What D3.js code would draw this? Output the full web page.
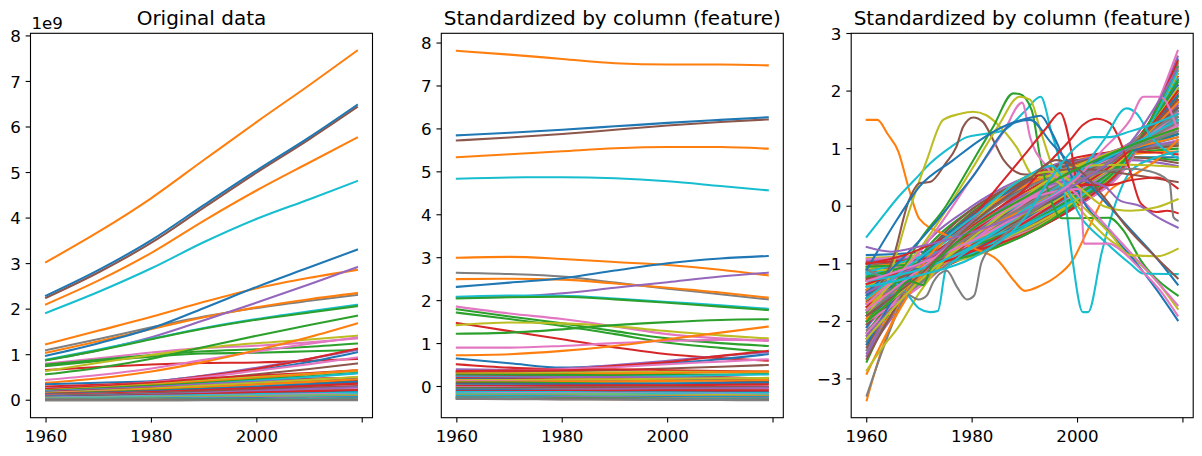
<!DOCTYPE html>
<html><head><meta charset="utf-8">
<script src="https://cdn.jsdelivr.net/npm/d3@7"></script>
<style>
body{margin:0;background:#fff}
svg{display:block}
text{font-family:"DejaVu Sans",sans-serif;fill:#000}
</style>
</head><body>
<svg id="chart" width="1202" height="456"></svg>
<script>
// ---------------- DATA ----------------
const palette = ["#1f77b4","#ff7f0e","#2ca02c","#d62728","#9467bd","#8c564b","#e377c2","#7f7f7f","#bcbd22","#17becf"];
const years = [1960,1970,1980,1990,2000,2010,2019];
const xTicks = [1960,1980,2000,2020];
const xTickLabels = ["1960","1980","2000",""];
const titles = ["Original data","Standardized by column (feature)","Standardized by column (feature)"];
const offsetLabel = "1e9";
const yTicks1 = [0,1,2,3,4,5,6,7,8];
const yTicks2 = [0,1,2,3,4,5,6,7,8];
const yTicks3 = [-3,-2,-1,0,1,2,3];
const yTickLabels3 = ["\u22123","\u22122","\u22121","0","1","2","3"];

// column (per-year) statistics across countries, in units of 1e9
const colMean = [0.1084,0.1360,0.1680,0.2055,0.2427,0.2790,0.3148];
const colStd  = [0.3739,0.4611,0.5599,0.6739,0.7828,0.8857,0.9838];

// values standardized by column (per year), one row per series, at `years`
const colZ = [
 [7.82,7.73,7.63,7.53,7.50,7.50,7.48],
 [5.73,5.80,5.88,5.98,6.08,6.16,6.22],
 [5.85,5.91,5.98,6.06,6.14,6.21,6.27],
 [5.34,5.41,5.48,5.55,5.58,5.58,5.54],
 [4.84,4.87,4.875,4.85,4.78,4.67,4.57],
 [3.00,3.02,2.97,2.90,2.83,2.72,2.59],
 [2.65,2.62,2.56,2.42,2.28,2.15,2.03],
 [2.50,2.51,2.49,2.40,2.30,2.19,2.07],
 [2.32,2.42,2.52,2.70,2.87,2.98,3.04],
 [2.07,2.09,2.17,2.30,2.43,2.56,2.65],
 [2.09,2.12,2.11,2.05,1.97,1.89,1.81],
 [2.05,2.08,2.09,2.03,1.95,1.86,1.78],
 [1.86,1.70,1.57,1.40,1.22,1.12,1.06],
 [1.80,1.63,1.47,1.29,1.12,1.01,0.945],
 [1.72,1.57,1.41,1.22,1.02,0.90,0.80],
 [1.48,1.29,1.10,0.91,0.75,0.66,0.60],
 [1.43,1.49,1.47,1.40,1.29,1.19,1.12],
 [1.23,1.255,1.33,1.43,1.50,1.55,1.565],
 [0.906,0.906,0.945,1.01,1.06,1.085,1.08],
 [0.728,0.752,0.83,0.945,1.10,1.255,1.395],
 [0.65,0.54,0.44,0.48,0.54,0.635,0.752],
 [0.40,0.39,0.42,0.50,0.60,0.71,0.80],
 [0.52,0.44,0.40,0.48,0.57,0.713,0.829],
 [0.36,0.37,0.40,0.45,0.52,0.58,0.635],
 [0.325,0.33,0.35,0.38,0.42,0.46,0.50],
 [0.36,0.37,0.38,0.40,0.38,0.36,0.35],
 [0.33,0.32,0.31,0.30,0.27,0.22,0.18],
 [0.30,0.31,0.32,0.33,0.34,0.34,0.34],
 [0.28,0.28,0.29,0.30,0.31,0.33,0.35],
 [0.27,0.27,0.27,0.26,0.27,0.28,0.29],
 [0.25,0.24,0.22,0.20,0.17,0.14,0.12],
 [0.23,0.22,0.21,0.22,0.24,0.26,0.28],
 [0.21,0.21,0.22,0.22,0.21,0.20,0.19],
 [0.19,0.18,0.17,0.16,0.15,0.14,0.13],
 [0.17,0.16,0.15,0.15,0.14,0.15,0.16],
 [0.15,0.15,0.16,0.17,0.18,0.19,0.20],
 [0.13,0.12,0.10,0.08,0.06,0.05,0.04],
 [0.11,0.11,0.12,0.12,0.13,0.14,0.15],
 [0.09,0.09,0.08,0.07,0.07,0.08,0.09],
 [0.07,0.06,0.05,0.03,0.01,0.00,-0.01],
 [0.05,0.05,0.05,0.06,0.07,0.08,0.09],
 [0.03,0.02,0.01,0.00,-0.01,-0.01,-0.02],
 [0.01,0.01,0.02,0.03,0.03,0.04,0.05],
 [-0.01,-0.02,-0.03,-0.04,-0.05,-0.05,-0.06],
 [-0.03,-0.03,-0.02,-0.02,-0.02,-0.01,-0.01],
 [-0.05,-0.06,-0.07,-0.08,-0.09,-0.09,-0.10],
 [-0.07,-0.07,-0.07,-0.06,-0.05,-0.04,-0.03],
 [-0.09,-0.09,-0.10,-0.11,-0.12,-0.12,-0.13],
 [-0.11,-0.11,-0.10,-0.10,-0.09,-0.09,-0.09],
 [-0.13,-0.13,-0.13,-0.14,-0.14,-0.15,-0.15],
 [-0.15,-0.15,-0.16,-0.16,-0.17,-0.17,-0.18],
 [-0.16,-0.17,-0.17,-0.17,-0.18,-0.19,-0.19],
 [-0.18,-0.18,-0.19,-0.19,-0.20,-0.20,-0.21],
 [-0.19,-0.19,-0.20,-0.21,-0.21,-0.22,-0.22],
 [-0.21,-0.21,-0.21,-0.22,-0.22,-0.23,-0.23],
 [-0.22,-0.22,-0.23,-0.23,-0.24,-0.24,-0.25],
 [-0.24,-0.24,-0.24,-0.25,-0.25,-0.26,-0.26],
 [-0.25,-0.25,-0.26,-0.26,-0.27,-0.27,-0.28],
 [-0.26,-0.26,-0.27,-0.27,-0.28,-0.28,-0.29],
 [-0.27,-0.27,-0.28,-0.28,-0.29,-0.29,-0.30],
 [-0.28,-0.28,-0.29,-0.29,-0.30,-0.30,-0.31],
 [-0.285,-0.29,-0.295,-0.30,-0.305,-0.31,-0.315],
 [-0.29,-0.295,-0.30,-0.305,-0.31,-0.315,-0.32]
];
const colZColors = [1,5,0,1,9, 1,7,1,0,4,9,2,6,2,2,3,8,2,6,1,0,4,3,6,5,
 3,3,8,1,2,5,9,4,3,0,8,6,1,2,3,0,7,3,6,5,2,4,0,3,9,6,9,8,9,1,9,0,6,2,7,9,5,7];

// values standardized per series (over its own years): bulk rows at `years`
const rowZ = [
 [-0.85,-0.80,-0.62,-0.35,0.05,0.80,2.55],
 [-1.40,-0.95,-0.60,-0.25,0.25,0.95,2.30],
 [-2.20,-1.10,-0.55,-0.05,0.40,1.05,2.10],
 [-1.10,-1.00,-0.80,-0.40,0.20,1.00,2.25],
 [-1.90,-1.30,-0.60,0.00,0.55,1.10,1.55],
 [-1.25,-1.00,-0.65,-0.15,0.35,0.95,2.05],
 [-2.50,-1.00,-0.20,0.35,0.75,0.95,1.15],
 [-1.60,-1.20,-0.70,-0.10,0.45,1.10,1.75],
 [-1.00,-0.92,-0.75,-0.42,0.10,0.90,2.40],
 [-2.00,-1.35,-0.55,0.10,0.62,1.05,1.40],
 [-1.75,-1.05,-0.45,0.05,0.50,1.00,1.60],
 [-1.30,-1.15,-0.85,-0.30,0.35,1.05,1.90],
 [-2.70,-0.90,-0.05,0.45,0.75,0.92,1.00],
 [-1.50,-1.25,-0.80,-0.15,0.45,1.05,1.70],
 [-1.15,-0.95,-0.70,-0.35,0.15,0.90,2.30],
 [-2.30,-1.20,-0.35,0.20,0.72,1.05,1.25],
 [-1.85,-1.15,-0.50,0.05,0.60,1.05,1.50],
 [-1.05,-0.90,-0.70,-0.40,0.10,0.85,2.45],
 [-1.65,-1.30,-0.75,-0.05,0.55,1.05,1.55],
 [-2.10,-1.00,-0.30,0.20,0.60,1.00,1.45],
 [-1.35,-1.05,-0.70,-0.25,0.30,0.95,2.00],
 [-2.40,-1.30,-0.30,0.35,0.80,1.00,1.10],
 [-1.20,-1.10,-0.85,-0.35,0.25,1.00,2.05],
 [-1.80,-1.10,-0.55,-0.05,0.50,1.05,1.70],
 [-0.95,-0.88,-0.72,-0.45,0.00,0.80,2.60],
 [-1.55,-1.00,-0.55,-0.10,0.40,1.00,1.85],
 [-2.05,-1.25,-0.45,0.12,0.65,1.05,1.35],
 [-1.45,-1.20,-0.75,-0.20,0.40,1.05,1.80],
 [-2.60,-1.15,-0.10,0.40,0.78,0.95,1.05],
 [-1.70,-1.25,-0.65,0.00,0.55,1.05,1.60],
 [-1.10,-1.05,-0.85,-0.45,0.15,0.95,2.15],
 [-1.95,-1.05,-0.40,0.10,0.55,1.00,1.55],
 [-1.25,-0.90,-0.60,-0.25,0.25,0.90,2.15],
 [-2.25,-1.05,-0.35,0.25,0.70,1.00,1.30],
 [-1.60,-1.10,-0.60,-0.10,0.45,1.05,1.75],
 [-1.00,-0.95,-0.80,-0.50,0.05,0.90,2.35],
 [-1.40,-1.20,-0.80,-0.25,0.35,1.05,1.85],
 [-2.15,-1.35,-0.50,0.15,0.68,1.05,1.30],
 [-1.75,-1.20,-0.60,-0.05,0.50,1.05,1.65],
 [-1.30,-1.05,-0.70,-0.20,0.35,0.95,1.95],
 [-2.35,-1.00,-0.25,0.30,0.72,0.98,1.20],
 [-1.50,-1.05,-0.65,-0.15,0.40,1.05,1.80],
 [-1.85,-1.30,-0.55,0.05,0.58,1.05,1.50],
 [-1.15,-1.00,-0.78,-0.38,0.18,0.95,2.20],
 [-2.00,-1.15,-0.45,0.10,0.60,1.05,1.45],
 [-1.65,-1.15,-0.62,-0.08,0.50,1.05,1.65],
 [-1.20,-0.95,-0.68,-0.28,0.25,0.95,2.10],
 [-2.50,-1.25,-0.20,0.40,0.78,0.98,1.08],
 [-1.35,-1.15,-0.75,-0.22,0.35,1.00,1.90],
 [-1.90,-1.20,-0.48,0.08,0.60,1.05,1.45],
 [-1.55,-1.25,-0.72,-0.12,0.48,1.05,1.70],
 [-1.05,-0.95,-0.75,-0.42,0.12,0.90,2.35],
 [-2.20,-1.25,-0.40,0.20,0.68,1.02,1.25],
 [-1.45,-1.05,-0.62,-0.15,0.38,1.00,1.85],
 [-1.75,-1.05,-0.50,0.00,0.52,1.05,1.65],
 [-1.25,-1.10,-0.80,-0.30,0.30,1.00,1.95],
 [-2.10,-1.15,-0.40,0.15,0.62,1.02,1.40],
 [-1.60,-1.25,-0.70,-0.08,0.50,1.05,1.65],
 [-0.90,-0.85,-0.72,-0.45,0.02,0.85,2.50],
 [-1.80,-1.25,-0.58,0.02,0.55,1.05,1.55],
 [-2.10,-0.90,-0.15,0.40,0.70,0.85,0.85],
 [-1.95,-0.95,-0.20,0.35,0.70,0.90,0.95],
 [-2.30,-1.00,-0.10,0.45,0.75,0.85,0.80],
 [-1.70,-1.20,-0.40,0.30,0.85,0.95,0.90],
 [-2.60,-0.80,0.00,0.50,0.80,0.80,0.70],
 [-2.45,-0.95,-0.05,0.45,0.80,0.85,0.75],
 [-0.92,-0.86,-0.72,-0.44,0.02,0.78,2.70],
 [-1.00,-0.90,-0.72,-0.42,0.05,0.82,2.48],
 [-1.08,-0.96,-0.76,-0.40,0.12,0.86,2.38],
 [-1.18,-1.02,-0.78,-0.36,0.20,0.92,2.22],
 [-1.30,-1.08,-0.78,-0.30,0.28,0.96,2.10],
 [-1.45,-1.12,-0.74,-0.22,0.36,1.00,1.98],
 [-1.60,-1.15,-0.68,-0.14,0.42,1.02,1.90],
 [-1.75,-1.18,-0.62,-0.08,0.46,1.02,1.85],
 [-1.90,-1.20,-0.55,-0.02,0.50,1.02,1.78],
 [-2.05,-1.22,-0.50,0.04,0.54,1.02,1.72],
 [-2.20,-1.22,-0.45,0.10,0.58,1.00,1.62],
 [-2.35,-1.20,-0.38,0.16,0.62,1.00,1.55],
 [-1.12,-1.05,-0.88,-0.48,0.10,0.92,2.30],
 [-1.38,-1.18,-0.82,-0.30,0.30,1.00,2.02],
 [-1.52,-1.22,-0.78,-0.22,0.38,1.02,1.92],
 [-1.68,-1.28,-0.72,-0.12,0.45,1.04,1.82],
 [-1.22,-0.98,-0.70,-0.32,0.20,0.92,2.18],
 [-0.98,-0.92,-0.78,-0.48,0.02,0.86,2.52],
 [-2.55,-1.30,-0.25,0.38,0.78,1.00,1.12],
 [-2.65,-1.10,-0.12,0.42,0.76,0.95,1.05],
 [-2.00,-1.40,-0.62,0.06,0.62,1.08,1.42],
 [-1.82,-1.35,-0.68,0.00,0.56,1.08,1.60],
 [-1.40,-1.00,-0.60,-0.18,0.30,0.95,2.05],
 [-1.15,-0.88,-0.62,-0.32,0.15,0.88,2.35],
 [-2.40,-0.95,-0.18,0.32,0.68,0.95,1.25],
 [-1.62,-1.00,-0.50,-0.05,0.45,1.00,1.80],
 [-1.05,-1.00,-0.85,-0.50,0.08,0.92,2.42],
 [-1.28,-1.10,-0.78,-0.28,0.30,0.98,2.00],
 [-2.25,-1.30,-0.45,0.18,0.70,1.06,1.30],
 [-1.48,-1.10,-0.68,-0.18,0.40,1.02,1.85]
];

// per-series standardized rows with irregular shapes (own sample years)
const rowOddYears = [
 [1960,1963,1966,1970,1980,1990,2000,2010,2019],
 [1960,1963,1967,1970,1980,1990,2000,2010,2019],
 [1960,1965,1970,1980,1990,2000,2010,2019],
 [1960,1963,1966,1970,1975,1980,1990,2000,2010,2019],
 [1960,1962,1964,1966,1968,1970,1975,1980,1985,1988,1990,1993,1996,1999,2002,2005,2010,2015,2019],
 [1960,1963,1966,1969,1972,1976,1979,1982,1986,1990,1993,1995,1997,1999,2001,2002,2004.6,2007.4,2010,2015,2019],
 [1960,1964,1967,1970,1972,1973.5,1975,1977,1980,1990,2000,2010,2019],
 [1960,1964,1968.2,1969.8,1971.4,1972.6,1975.2,1977.1,1979,1980.4,1981.8,1985,1990,2000,2010,2019],
 [1960,1964,1968,1971.4,1974.5,1977.6,1980.2,1982.7,1985.3,1988.4,1992,1996,2000,2010,2019],
 [1960,1965,1968,1970,1972,1975,1977,1978.3,1980.2,1982,1984,1986,1990,2000,2010,2019],
 [1960,1965,1970,1975,1978,1981,1984,1987.8,1989,1991.3,1993,1995,1997,2006,2008.7,2012,2019],
 [1960,1970,1980,1985,1989,1991,1993,1996,2000,2005,2010,2015,2019],
 [1960,1970,1980,1986,1989.5,1991,1994,2000,2005,2010,2015,2019],
 [1960,1965.7,1970,1976.4,1981.5,1986.6,1991.6,1993,1995,1998,2001,2006,2011,2015,2019],
 [1960,1970,1980,1988,1991,1995,2000,2005,2010,2015,2019],
 [1960,1970,1980,1985,1990,1994,1996.7,1998.9,1999.8,2000.5,2006,2010,2015,2019],
 [1960,1970,1980,1990,1995,1998.6,2001,2003.6,2006.2,2008,2010,2012,2015,2017,2019],
 [1960,1970,1980,1990,2000,2005,2008,2012,2015,2019],
 [1960,1970,1980,1990,2000,2005,2010,2012.5,2016.3,2017.5,2018.2,2019],
 [1960,1970,1980,1990,1995,2000,2005,2010,2015,2019],
 [1960,1970,1980,1990,1995,2001,2006.2,2010,2015,2019],
 [1960,1970,1980,1990,1995,2001,2005,2010,2012.5,2019],
 [1960,1970,1980,1990,2000,2000.6,2001.2,2006,2008,2012,2016,2019],
 [1960,1970,1980,1990,2000,2005,2009.3,2011.2,2014,2017,2019],
 [1960,1970,1980,1990,2000,2005,2010,2012.5,2015.7,2019],
 [1960,1970,1980,1990,1996,2000,2005.5,2009.3,2015,2019],
 [1960,1964.6,1970,1980,1990,2000,2010,2019],
 [1960,1965,1968,1970.7,1972,1975,1980,1990,2000,2010,2019],
 [1960,1970,1980,1990,1995,2000,2003,2006,2010,2015,2019]
];
const rowOddValues = [
 [-3.37,-2.45,-1.75,-1.10,-0.20,0.35,0.72,1.00,1.20],
 [-3.29,-2.50,-1.60,-1.20,-0.30,0.30,0.70,1.00,1.30],
 [-2.91,-2.00,-1.25,-0.40,0.20,0.70,1.05,1.35],
 [-2.85,-2.45,-2.10,-1.50,-0.90,-0.45,0.20,0.70,1.05,1.35],
 [1.50,1.50,1.25,0.95,0.30,-0.22,-0.50,-0.72,-0.95,-1.30,-1.47,-1.38,-1.22,-0.95,-0.40,0.15,0.50,0.80,1.15],
 [-0.53,-0.18,0.16,0.45,0.74,1.03,1.20,1.25,1.32,1.65,1.90,1.30,0.60,-0.90,-1.84,-1.84,-0.80,0.10,0.60,0.85,0.95],
 [-1.15,-1.25,-1.45,-1.78,-1.84,-1.82,-1.10,-0.92,-0.72,-0.05,0.55,1.05,1.50],
 [-1.10,-1.30,-1.55,-1.62,-1.55,-1.32,-1.12,-1.40,-1.62,-1.55,-0.97,-0.60,-0.20,0.45,1.00,1.45],
 [-1.90,-1.30,-0.10,0.80,1.50,1.60,1.64,1.58,1.38,1.03,0.50,0.55,0.70,0.72,0.68],
 [-1.60,-0.90,0.10,0.40,0.42,0.75,1.03,1.38,1.54,1.47,1.15,0.80,0.55,0.65,0.55,0.42],
 [-2.00,-1.40,-0.60,0.00,0.45,0.92,1.38,1.96,1.95,1.67,0.80,0.10,-0.21,-0.20,-0.42,-0.94,-1.55],
 [-1.80,-0.75,0.65,1.40,1.90,1.85,1.30,0.50,0.00,-0.50,-0.85,-1.30,-1.78],
 [-1.70,-0.80,0.50,1.30,1.80,1.20,0.70,0.20,-0.30,-0.80,-1.30,-1.72],
 [-1.10,-0.24,0.34,0.80,1.15,1.41,1.55,1.57,1.30,0.70,0.10,-0.45,-0.97,-1.45,-1.98],
 [-1.50,-0.60,0.50,1.45,1.50,1.10,0.60,0.10,-0.40,-0.90,-1.36],
 [-1.00,-0.75,-0.20,0.35,0.90,1.35,1.62,0.92,0.45,0.37,0.37,0.45,0.50,0.31],
 [-1.35,-1.00,-0.45,0.30,0.80,1.15,1.41,1.52,1.44,1.15,0.60,0.05,-0.10,-0.08,-0.12],
 [-1.50,-1.00,-0.40,0.20,0.45,0.35,0.10,0.00,-0.18,-0.37],
 [-1.90,-1.10,-0.50,0.00,0.45,0.60,0.65,0.63,0.51,0.40,-0.19,-0.25],
 [-2.00,-1.20,-0.30,0.50,0.60,0.35,0.00,-0.08,-0.02,0.12],
 [-2.30,-1.30,-0.55,0.15,0.45,-0.01,-0.48,-0.85,-0.87,-0.74],
 [-1.60,-0.90,-0.20,0.50,0.70,-0.24,-0.60,-1.00,-1.17,-1.18],
 [-1.80,-1.10,-0.40,0.10,0.30,0.28,-0.65,-0.65,-0.75,-1.10,-1.50,-1.90],
 [-1.30,-1.10,-0.70,-0.10,0.55,1.15,1.70,1.61,1.20,0.95,0.83],
 [-1.30,-1.00,-0.60,-0.10,0.50,1.00,1.50,1.90,1.90,1.32],
 [-1.90,-1.20,-0.30,0.40,0.80,0.65,0.10,-0.36,-0.90,-1.25],
 [-0.71,-0.79,-0.70,-0.45,-0.10,0.40,1.10,2.40],
 [-2.00,-1.60,-1.30,-1.37,-1.10,-0.80,-0.40,0.15,0.65,1.05,1.35],
 [-1.40,-1.20,-0.90,-0.20,0.50,1.05,1.20,1.20,1.30,1.45,1.60]
];
const rowOddColors = [1,7,1,8, 1,9,9,7,8,5,2,8,6,0,0,3,3,4,7,8,8,9,6,9,6,5,4,2,9];

// ---------------- DRAWING ----------------
const svg = d3.select("#chart");
const axTop = 33.3, axH = 384.4, axW = 342;
const axLefts = [30.5, 441.3, 851.2];
const tickLen = 4.86, tickPad = 4.86, tickFont = 16.67, titleFont = 20;

const ser1 = colZ.map((z, i) => ({pts: years.map((yr, j) => [yr, colMean[j] + z[j] * colStd[j]]), c: palette[colZColors[i]]}));
const ser2 = colZ.map((z, i) => ({pts: years.map((yr, j) => [yr, z[j]]), c: palette[colZColors[i]]}));
const ser3 = rowZ.map((z, i) => ({pts: years.map((yr, j) => [yr, z[j]]), c: palette[i % 10]}))
  .concat(rowOddYears.map((ys, i) => ({pts: ys.map((yr, j) => [yr, rowOddValues[i][j]]), c: palette[rowOddColors[i]]})));

function panel(idx, series, yTicks, yLabels, title, offset){
  const left = axLefts[idx];
  const g = svg.append("g");
  const allY = series.flatMap(s => s.pts.map(p => p[1]));
  const [x0, x1] = [years[0], years[years.length - 1]];
  const xm = (x1 - x0) * 0.05;
  const [y0, y1] = d3.extent(allY);
  const ym = (y1 - y0) * 0.05;
  const x = d3.scaleLinear().domain([x0 - xm, x1 + xm]).range([left, left + axW]);
  const y = d3.scaleLinear().domain([y0 - ym, y1 + ym]).range([axTop + axH, axTop]);

  const cid = "clip" + idx;
  g.append("clipPath").attr("id", cid).append("rect")
    .attr("x", left).attr("y", axTop).attr("width", axW).attr("height", axH);

  const line = d3.line().x(d => x(d[0])).y(d => y(d[1])).curve(d3.curveMonotoneX);
  g.append("g").attr("clip-path", `url(#${cid})`)
    .selectAll("path").data(series).join("path")
    .attr("d", d => line(d.pts))
    .attr("fill", "none").attr("stroke", d => d.c)
    .attr("stroke-width", 2.08).attr("stroke-linejoin", "round").attr("stroke-linecap", "square");

  // spines
  g.append("rect").attr("x", left).attr("y", axTop).attr("width", axW).attr("height", axH)
    .attr("fill", "none").attr("stroke", "#000").attr("stroke-width", 1.1);

  const bottom = axTop + axH;
  xTicks.forEach((t, i) => {
    const px = x(t);
    g.append("line").attr("x1", px).attr("x2", px).attr("y1", bottom).attr("y2", bottom + tickLen)
      .attr("stroke", "#000").attr("stroke-width", 1.1);
    if (xTickLabels[i]) g.append("text").attr("x", px).attr("y", bottom + 24.4)
      .attr("text-anchor", "middle").attr("font-size", tickFont).text(xTickLabels[i]);
  });
  yTicks.forEach((t, i) => {
    const py = y(t);
    g.append("line").attr("x1", left - tickLen).attr("x2", left).attr("y1", py).attr("y2", py)
      .attr("stroke", "#000").attr("stroke-width", 1.1);
    g.append("text").attr("x", left - tickLen - tickPad).attr("y", py + 6.1)
      .attr("text-anchor", "end").attr("font-size", tickFont).text(yLabels[i]);
  });
  g.append("text").attr("x", left + axW / 2).attr("y", 25)
    .attr("text-anchor", "middle").attr("font-size", titleFont).text(title);
  if (offset) g.append("text").attr("x", left + 1).attr("y", 29)
    .attr("font-size", tickFont).text(offset);
}

panel(0, ser1, yTicks1, yTicks1.map(String), titles[0], offsetLabel);
panel(1, ser2, yTicks2, yTicks2.map(String), titles[1], null);
panel(2, ser3, yTicks3, yTickLabels3, titles[2], null);
</script>
</body></html>
